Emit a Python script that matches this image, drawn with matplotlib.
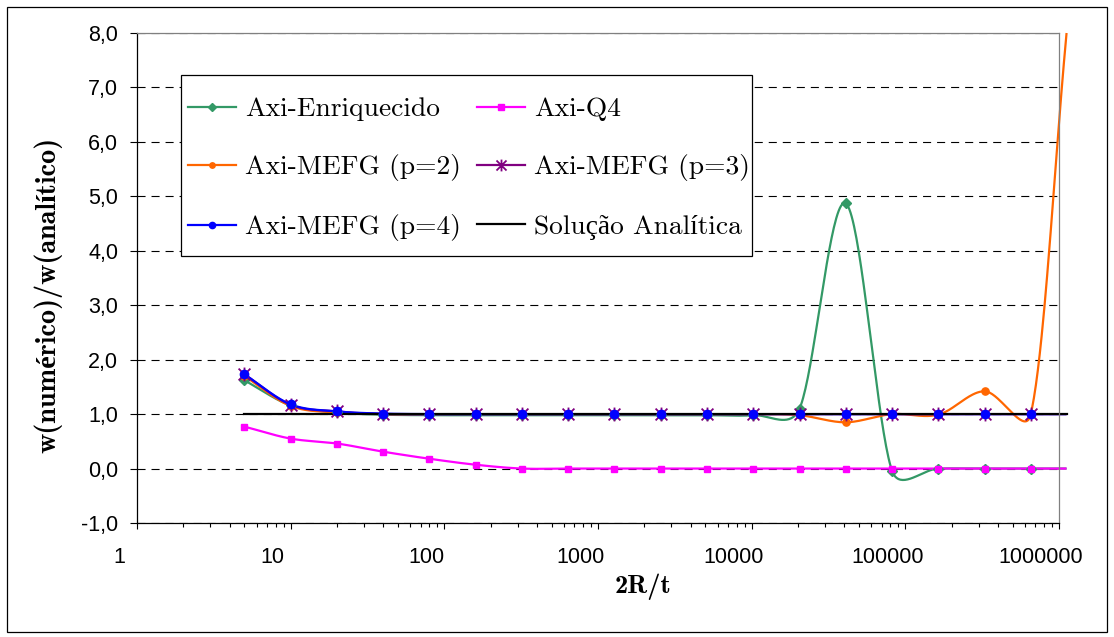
import numpy as np
import matplotlib
matplotlib.use("Agg")
import matplotlib.pyplot as plt
from matplotlib.path import Path
from matplotlib.lines import Line2D
from matplotlib.patches import Rectangle
from matplotlib.transforms import offset_copy

plt.rcParams["font.family"] = ["Liberation Sans", "DejaVu Sans"]
plt.rcParams["lines.scale_dashes"] = False

# ---- data -------------------------------------------------------------
razao = [5, 10, 20, 40, 80, 160, 320, 640, 1280, 2560, 5120, 10240,
         20480, 40960, 81920, 163840, 327680, 655360, 1120000]

enriquecido = [1.62, 1.16, 1.03, 0.99, 0.98, 0.98, 0.98, 0.98, 0.98, 0.98,
               0.98, 0.98, 1.10, 4.87, -0.04, 0.00, 0.00, 0.00, 0.00]
q4 = [0.77, 0.55, 0.46, 0.31, 0.18, 0.07, 0.00, 0.00, 0.00, 0.00,
      0.00, 0.00, 0.00, 0.00, 0.00, 0.00, 0.00, 0.00, 0.00]
mefg_p2 = [1.70, 1.15, 1.03, 1.00, 1.00, 1.00, 1.00, 1.00, 1.00, 1.00,
           1.00, 1.00, 0.98, 0.85, 1.00, 0.99, 1.42, 1.00, 8.00]
mefg_p3 = [1.73, 1.17, 1.05, 1.00, 1.00, 1.00, 1.00, 1.00, 1.00, 1.00,
           1.00, 1.00, 1.00, 1.00, 1.00, 1.00, 1.00, 1.00, 1.00]
mefg_p4 = [1.73, 1.18, 1.05, 1.01, 1.00, 1.00, 1.00, 1.00, 1.00, 1.00,
           1.00, 1.00, 1.00, 1.00, 1.00, 1.00, 1.00, 1.00, 1.00]
analitica = [1.0] * len(razao)

y_ticks = [-1, 0, 1, 2, 3, 4, 5, 6, 7, 8]
x_ticks = [1, 10, 100, 1000, 10000, 100000, 1000000]

# ---- figure -----------------------------------------------------------
W, H = 1114, 637
fig = plt.figure(figsize=(W / 100, H / 100), dpi=100)
ax = fig.add_axes([137 / W, 1 - 523 / H, (1059 - 137) / W, (523 - 33) / H])
ax.set_xscale("log")
ax.set_xlim(1, 1e6)
ax.set_ylim(-1, 8)

for s in ("left", "bottom"):
    ax.spines[s].set_color("black")
    ax.spines[s].set_linewidth(0.9)
for s in ("top", "right"):
    ax.spines[s].set_color("#808080")
    ax.spines[s].set_linewidth(0.9)

ax.set_yticks(y_ticks)
ax.set_yticklabels([f"{v:.1f}".replace(".", ",") for v in y_ticks])
ax.tick_params(axis="y", direction="out", length=5, width=0.8, pad=8.6,
               labelsize=15.5, colors="black")
ax.set_xticks(x_ticks)
ax.xaxis.set_minor_locator(matplotlib.ticker.LogLocator(base=10, subs=np.arange(2, 10)))
ax.xaxis.set_minor_formatter(matplotlib.ticker.NullFormatter())
ax.tick_params(axis="x", which="major", direction="out", length=4.3, width=0.8,
               labelbottom=False)
ax.tick_params(axis="x", which="minor", direction="out", length=2.9, width=0.8)

ax.set_axisbelow(True)
ax.grid(axis="y", which="major", color="black", lw=0.8, linestyle=(0, (5.8, 4.3)))

# x tick labels, set slightly left of their ticks
lab_tr = offset_copy(ax.get_xaxis_transform(), fig=fig, x=-18, y=-40, units="dots")
for v in x_ticks:
    ax.text(v, 0, f"{v}", transform=lab_tr, ha="center", va="baseline",
            fontsize=15.5, clip_on=False)


def _ctrl(vec, seg_len):
    """Tangent handle: one sixth of the neighbour chord, at most half the segment."""
    n = np.hypot(*vec)
    if n == 0:
        return vec * 0
    L = min(n / 6.0, seg_len / 2.0)
    return vec / n * L


def smooth(xs, ys, n=40):
    """Bezier smoothing done in display space, like a spreadsheet 'smoothed line'."""
    pts = ax.transData.transform(np.column_stack([xs, ys]))
    m = len(pts)
    out = [pts[0]]
    t = np.linspace(0, 1, n)[1:, None]
    for i in range(m - 1):
        p1, p2 = pts[i], pts[i + 1]
        seg = np.hypot(*(p2 - p1))
        d1 = (pts[i + 1] - pts[i - 1]) if i > 0 else 2 * (p2 - p1)
        d2 = (pts[i + 2] - pts[i]) if i + 2 < m else 2 * (p2 - p1)
        c1 = p1 + _ctrl(d1, seg)
        c2 = p2 - _ctrl(d2, seg)
        b = ((1 - t) ** 3) * p1 + 3 * ((1 - t) ** 2) * t * c1 \
            + 3 * (1 - t) * t ** 2 * c2 + t ** 3 * p2
        out.extend(b)
    out = np.array(out)
    return ax.transData.inverted().transform(out).T


asterisco = Path([(0, -1), (0, 1), (-0.85, -0.85), (0.85, 0.85), (-0.85, 0.85), (0.85, -0.85)],
                 [Path.MOVETO, Path.LINETO, Path.MOVETO, Path.LINETO, Path.MOVETO, Path.LINETO])

series = [
    ("Axi-Enriquecido", enriquecido, "#339966", "D", 5.0, 0.75, {}),
    ("Axi-Q4", q4, "#FF00FF", "s", 5.0, 0.75, {}),
    ("Axi-MEFG (p=2)", mefg_p2, "#FF6600", "o", 5.2, 0.75, {}),
    ("Axi-MEFG (p=3)", mefg_p3, "#800080", asterisco, 10.0, 0.85, {"mew": 1.3}),
    ("Axi-MEFG (p=4)", mefg_p4, "#0000FF", "o", 6.0, 0.75, {}),
]

handles = {}
for name, ys, col, mk, ms, lscale, kw in series:
    sx, sy = smooth(razao, ys)
    ax.plot(sx, sy, color=col, lw=1.6, zorder=2, clip_on=False, solid_capstyle="butt")
    ax.plot(razao[:-1], ys[:-1], linestyle="none", marker=mk, ms=ms, color=col,
            mec=col, zorder=3, clip_on=False, **kw)
    handles[name] = Line2D([], [], color=col, lw=1.6, marker=mk,
                           ms=ms * lscale, mec=col, **kw)

ax.plot(razao, analitica, color="black", lw=1.6, zorder=2.5, clip_on=False)
handles["Solução Analítica"] = Line2D([], [], color="black", lw=1.6)

# legend frame + entries
ax.add_patch(Rectangle((181 / W, 1 - 256 / H), (752 - 181) / W, (256 - 75) / H,
                       transform=fig.transFigure, facecolor="white",
                       edgecolor="black", lw=0.9, zorder=4, clip_on=False))
order = ["Axi-Enriquecido", "Axi-MEFG (p=2)", "Axi-MEFG (p=4)",
         "Axi-Q4", "Axi-MEFG (p=3)", "Solução Analítica"]
leg = ax.legend([handles[k] for k in order], order, ncol=2, loc="upper left",
                bbox_to_anchor=(188 / W, 1 - 97 / H), bbox_transform=fig.transFigure,
                frameon=False, borderpad=0, borderaxespad=0, handlelength=1.75,
                handletextpad=0.33, columnspacing=0.58, labelspacing=1.2,
                numpoints=1, prop={"family": ["cmr10", "Liberation Serif"], "size": 19.8})
leg.set_zorder(5)

# axis titles
fig.text(643 / W, 1 - 587 / H, "2R/t", ha="center", va="center", fontsize=19,
         family=["cmb10", "Liberation Serif"], weight="bold")
fig.text(48 / W, 1 - 295 / H, "w(numérico)/w(analítico)", ha="center", va="center",
         rotation=90, fontsize=20.3, family=["cmb10", "Liberation Serif"], weight="bold")

# outer chart border
fig.patches.append(Rectangle((7 / W, 1 - 632 / H), (1107 - 7) / W, (632 - 7) / H,
                             transform=fig.transFigure, fill=False,
                             edgecolor="black", lw=0.9))

fig.savefig("out.png", dpi=100)
